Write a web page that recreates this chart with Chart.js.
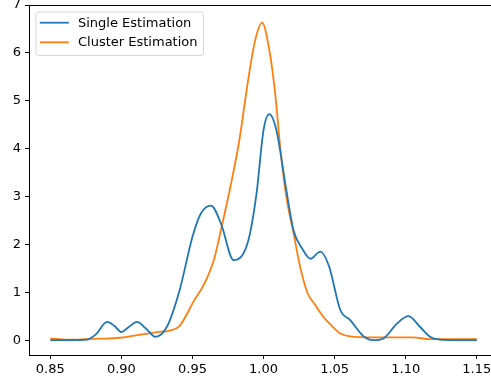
<!DOCTYPE html>
<html>
<head>
<meta charset="utf-8">
<script src="https://cdn.jsdelivr.net/npm/chart.js@4/dist/chart.umd.min.js"></script>
<style>
  html, body { margin: 0; padding: 0; background: #fff; overflow: hidden; }
  #wrap { width: 491px; height: 385px; position: relative; }
</style>
</head>
<body>
<div id="wrap"><canvas id="kde"></canvas></div>
<script>
// values
var singleX = [0.850, 0.860, 0.870, 0.876, 0.882, 0.890, 0.895, 0.900, 0.905, 0.911, 0.917, 0.924,
               0.932, 0.941, 0.950, 0.956, 0.963, 0.970, 0.979, 0.989, 0.995, 1.000, 1.004, 1.009,
               1.016, 1.021, 1.027, 1.033, 1.040, 1.046, 1.054, 1.061, 1.070, 1.077, 1.084, 1.094,
               1.102, 1.110, 1.117, 1.124, 1.135, 1.150];
var singleY = [0, 0, 0, 0.01, 0.12, 0.38, 0.30, 0.17, 0.27, 0.38, 0.25, 0.07,
               0.28, 1.05, 2.16, 2.65, 2.81, 2.44, 1.67, 2.05, 3.05, 4.39, 4.72, 4.39,
               3.14, 2.30, 1.92, 1.70, 1.85, 1.55, 0.63, 0.42, 0.09, 0.0, 0.03, 0.35,
               0.50, 0.28, 0.07, 0.01, 0, 0];

var clusterX = [0.850, 0.862, 0.875, 0.885, 0.899, 0.908, 0.917, 0.925, 0.934, 0.941, 0.951, 0.958,
                0.965, 0.970, 0.977, 0.983, 0.989, 0.994, 0.999, 1.004, 1.008, 1.012, 1.016, 1.021,
                1.026, 1.031, 1.036, 1.042, 1.048, 1.054, 1.061, 1.077, 1.095, 1.105, 1.117, 1.130,
                1.150];
var clusterY = [0.035, 0.01, 0.02, 0.03, 0.05, 0.09, 0.13, 0.17, 0.20, 0.30, 0.82, 1.16,
                1.67, 2.30, 3.25, 4.18, 5.40, 6.25, 6.63, 6.07, 5.20, 3.95, 3.00, 2.25,
                1.50, 0.98, 0.75, 0.49, 0.30, 0.14, 0.08, 0.06, 0.06, 0.06, 0.02, 0.02,
                0.02];

var seriesLabels = ['Single Estimation', 'Cluster Estimation'];
var xTicks = [0.85, 0.90, 0.95, 1.00, 1.05, 1.10, 1.15];
var yTicks = [0, 1, 2, 3, 4, 5, 6, 7];

function toPoints(xs, ys) {
    return xs.map(function (x, i) { return { x: x, y: ys[i] }; });
}

var FONT = { family: "'DejaVu Sans', sans-serif", size: 13 };
var LINE_W = 1.8;

// legend in the upper left corner + top spine, matplotlib style
var boxLegend = {
    id: 'boxLegend',
    afterDraw: function (chart) {
        var c = chart.ctx, a = chart.chartArea;
        c.save();
        c.strokeStyle = '#000';
        c.lineWidth = 1;
        var ty = Math.round(a.top) + 0.5;
        c.beginPath();
        c.moveTo(a.left, ty);
        c.lineTo(a.right, ty);
        c.stroke();

        var bx = a.left + 7, by = a.top + 7, bw = 167.5, bh = 43.5;
        c.fillStyle = 'rgba(255,255,255,0.8)';
        c.strokeStyle = '#d6d6d6';
        c.lineWidth = 1;
        c.beginPath();
        c.roundRect(bx, by, bw, bh, 2.5);
        c.fill();
        c.stroke();

        c.font = FONT.size + 'px ' + FONT.family;
        c.textBaseline = 'middle';
        chart.data.datasets.forEach(function (ds, i) {
            var ry = by + 10.7 + i * 19.6;
            c.strokeStyle = ds.borderColor;
            c.lineWidth = LINE_W;
            c.beginPath();
            c.moveTo(bx + 3.8, ry);
            c.lineTo(bx + 32.8, ry);
            c.stroke();
            c.fillStyle = '#000';
            c.fillText(ds.label, bx + 42, ry + 0.5);
        });
        c.restore();
    }
};

new Chart(document.getElementById('kde').getContext('2d'), {
    type: 'line',
    data: {
        datasets: [{
            label: seriesLabels[0],
            data: toPoints(singleX, singleY),
            borderColor: '#1f77b4',
            borderWidth: LINE_W,
            pointRadius: 0,
            cubicInterpolationMode: 'monotone',
            fill: false
        }, {
            label: seriesLabels[1],
            data: toPoints(clusterX, clusterY),
            borderColor: '#ff7f0e',
            borderWidth: LINE_W,
            pointRadius: 0,
            cubicInterpolationMode: 'monotone',
            fill: false
        }]
    },
    options: {
        responsive: true,
        maintainAspectRatio: false,
        animation: false,
        layout: { padding: { top: 5, right: 0, left: 0, bottom: 0 } },
        plugins: {
            legend: { display: false },
            tooltip: { enabled: false }
        },
        scales: {
            x: {
                type: 'linear',
                min: 0.835,
                max: 1.16,
                afterBuildTicks: function (s) {
                    s.ticks = xTicks.map(function (v) { return { value: v }; });
                },
                afterFit: function (s) {
                    s.height = 30;
                    s.paddingLeft = 0;
                    s.paddingRight = 0;
                },
                ticks: {
                    color: '#000',
                    font: FONT,
                    maxRotation: 0,
                    autoSkip: false,
                    padding: 3,
                    callback: function (v) { return v.toFixed(2); }
                },
                grid: {
                    drawOnChartArea: false,
                    drawTicks: true,
                    tickLength: 4,
                    tickWidth: 1,
                    tickColor: '#000'
                },
                border: { display: true, color: '#000', width: 1 }
            },
            y: {
                type: 'linear',
                min: -0.31,
                max: 7,
                afterBuildTicks: function (s) {
                    s.ticks = yTicks.map(function (v) { return { value: v }; });
                },
                afterFit: function (s) {
                    s.width = 29;
                    s.paddingTop = 0;
                    s.paddingBottom = 0;
                },
                ticks: {
                    color: '#000',
                    font: FONT,
                    autoSkip: false,
                    padding: 4,
                    callback: function (v) { return String(v); }
                },
                grid: {
                    drawOnChartArea: false,
                    drawTicks: true,
                    tickLength: 4,
                    tickWidth: 1,
                    tickColor: '#000'
                },
                border: { display: true, color: '#000', width: 1 }
            }
        }
    },
    plugins: [boxLegend]
});
</script>
</body>
</html>
